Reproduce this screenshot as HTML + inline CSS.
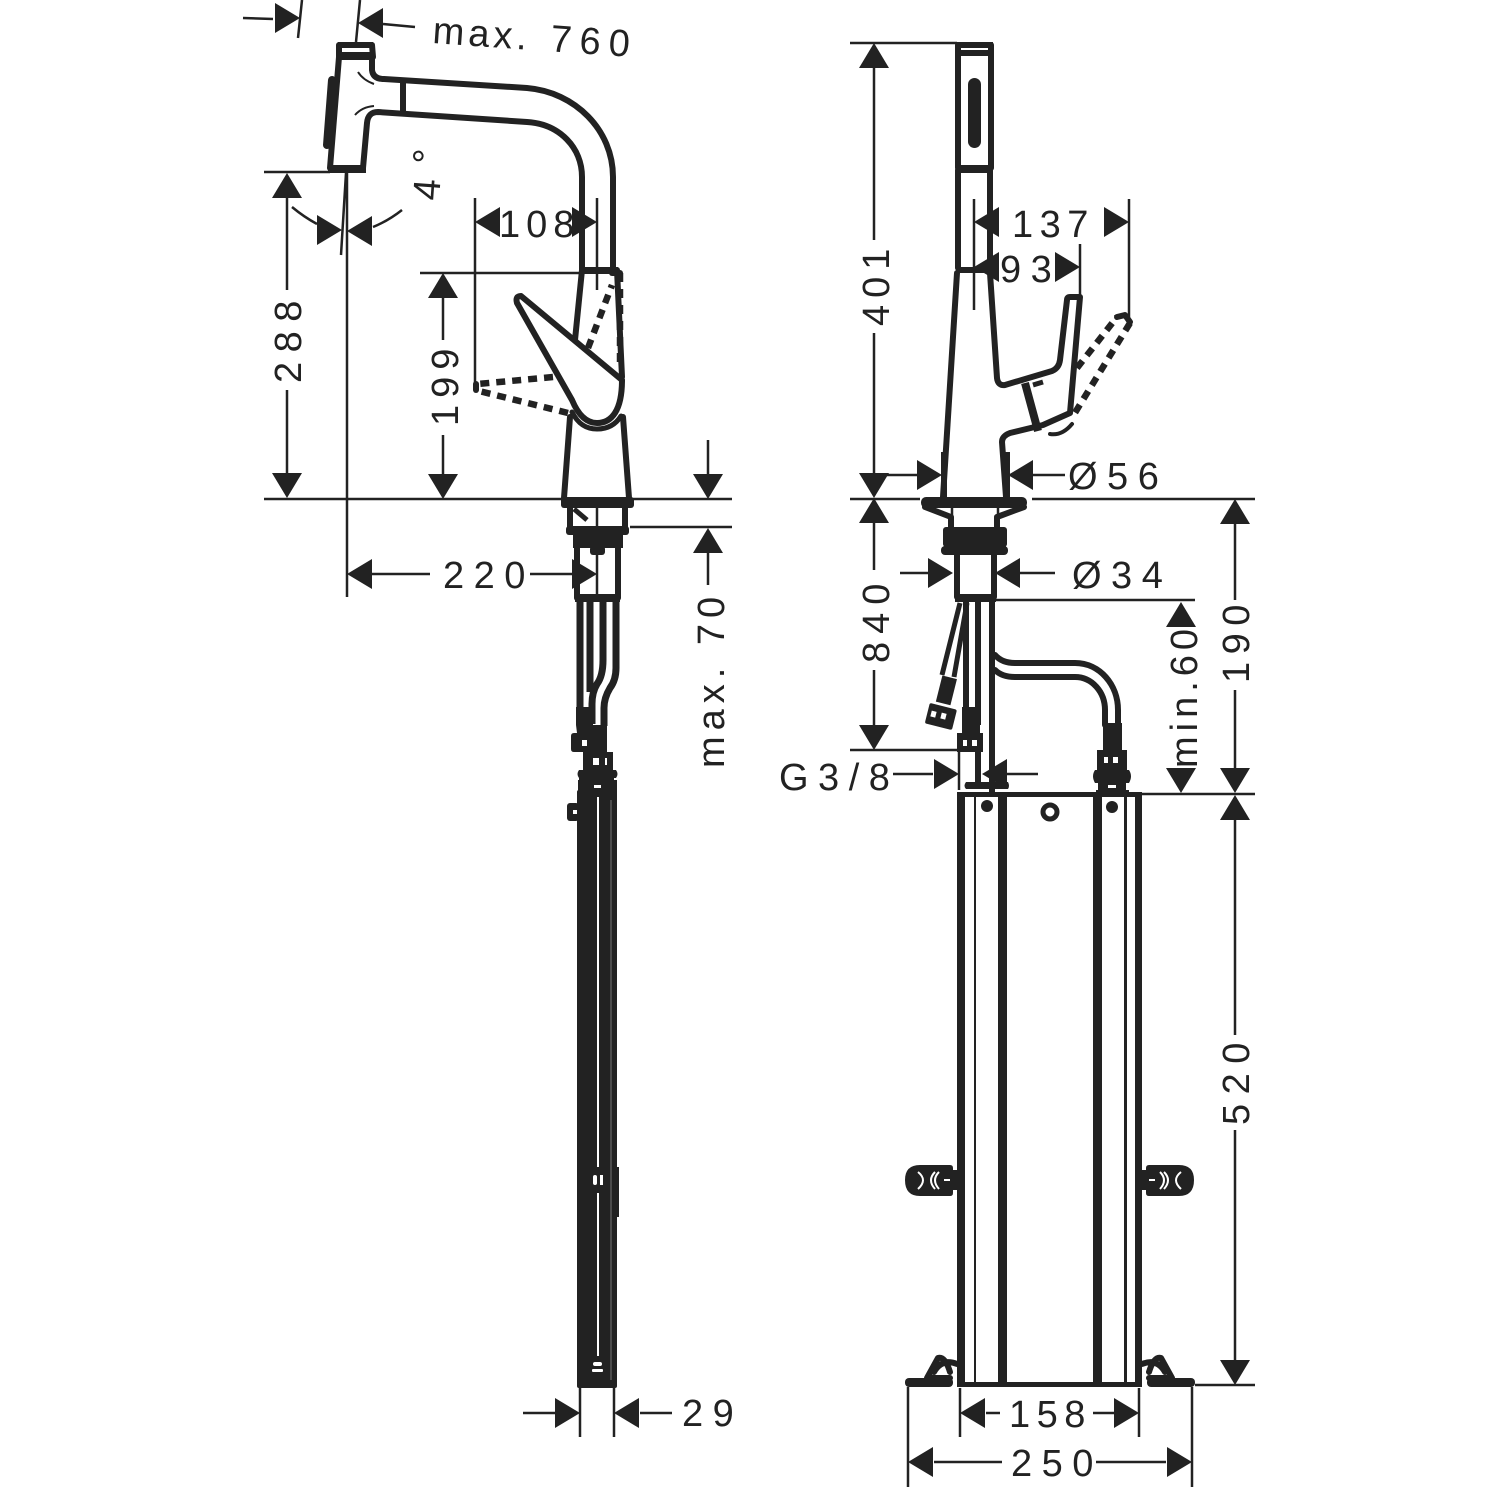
<!DOCTYPE html>
<html><head><meta charset="utf-8"><style>
html,body{margin:0;padding:0;background:#fff}
svg{display:block}
text{font-family:"Liberation Sans",sans-serif;font-size:38px;fill:#222;letter-spacing:9.5px}
.t{fill:none;stroke:#222;stroke-width:2.5}
.b{fill:none;stroke:#222;stroke-width:6;stroke-linejoin:round;stroke-linecap:round}
.d{fill:none;stroke:#222;stroke-width:6.5;stroke-dasharray:9 7}
.k{fill:#222}
.w{fill:#fff}
</style></head><body>
<svg width="1500" height="1500" viewBox="0 0 1500 1500" xmlns="http://www.w3.org/2000/svg">
<defs><polygon id="a" points="0,0 -25,-15 -25,15" fill="#222"/></defs>
<rect width="1500" height="1500" fill="#fff"/>

<!-- LEFT: thin dimension lines -->
<path class="t" d="M243 18L273 19M302 0L298 38M360 0L356 42M383 24L415 27
M264 172H330M287 197V290M287 390V475M264 499H565M632 499H732
M347 172V597M346 173L341 255M292 207Q304 217 317 224M373 227Q388 221 402 210
M475 198V385M597 198V290M420 273H580
M443 298V340M443 435V475
M708 440V475M708 553V585M630 527H732
M372 574H430M530 574H572
M523 1413H555M640 1413H672M580 1388V1437M614 1388V1437"/>
<use href="#a" transform="translate(300 18)"/>
<use href="#a" transform="translate(358 23) rotate(180)"/>
<use href="#a" transform="translate(287 173) rotate(-90)"/>
<use href="#a" transform="translate(287 498) rotate(90)"/>
<use href="#a" transform="translate(342 230)"/>
<use href="#a" transform="translate(347 231) rotate(180)"/>
<use href="#a" transform="translate(475 222) rotate(180)"/>
<use href="#a" transform="translate(597 222)"/>
<use href="#a" transform="translate(443 273) rotate(-90)"/>
<use href="#a" transform="translate(443 499) rotate(90)"/>
<use href="#a" transform="translate(708 499) rotate(90)"/>
<use href="#a" transform="translate(708 528) rotate(-90)"/>
<use href="#a" transform="translate(347 574) rotate(180)"/>
<use href="#a" transform="translate(597 574)"/>
<use href="#a" transform="translate(580 1413)"/>
<use href="#a" transform="translate(614 1413) rotate(180)"/>

<!-- LEFT: spout -->
<path class="b" d="M339 45H372L373 57H339ZM339 57L330 168H363L367 123Q368 112 378 112L527 122C560 124 582 148 582 177V270M372 57V70Q373 79 384 79L527 88C575 92 613 130 613 177V270"/>
<path d="M338 42H373V48H338ZM338 52H373V58H338Z" class="k"/>
<path d="M328 167H366V173H328Z" class="k"/>
<path d="M403 82V112" class="b"/>
<path d="M332 80L327 145" fill="none" stroke="#222" stroke-width="8" stroke-linecap="round"/>
<path d="M358 72Q363 80 374 84M355 115Q362 107 374 106" fill="none" stroke="#222" stroke-width="2"/>
<!-- body -->
<path d="M580 267H618V274H580Z" class="k"/>
<path class="b" d="M582 270L575 340M617 270L622 377"/>
<path class="b" d="M521 296L622 380C622 410 612 423 597 423C585 423 577 412 572 400L517 303Q515 296 521 296Z"/>
<path class="b" style="stroke-width:5" d="M572 412C578 424 586 429 597 429C608 429 616 424 621 416"/>
<path class="b" d="M570 417L564 498M623 417L629 498"/>
<path class="d" d="M588 348L612 285M620 273V363"/>
<path class="b" d="M612 273H620"/>
<path class="d" d="M553 377L478 384M568 413L475 390"/>
<path class="b" d="M476 384V390"/>
<!-- base -->
<rect x="561" y="497" width="73" height="11" rx="3" class="k"/>
<path class="b" d="M570 507V527M625 507V527"/>
<path class="t" d="M597 507V527"/>
<path d="M574 509L587 520" stroke="#222" stroke-width="5"/>
<rect x="566" y="526" width="63" height="9" rx="3" class="k"/>
<rect x="573" y="534" width="50" height="14" class="k"/>
<rect x="590" y="546" width="15" height="9" rx="3" class="k"/>
<path class="b" d="M577 548V598M618 548V598"/>
<path class="t" d="M597 548V600"/>
<path d="M575 594H620V602H575Z" class="k"/>
<!-- hoses -->
<path d="M580 600V712" stroke="#222" stroke-width="7" fill="none"/>
<path d="M590 600V692" stroke="#222" stroke-width="7" fill="none"/>
<path d="M603 600V660Q603 676 597 684Q592 692 592 704V724" stroke="#222" stroke-width="7" fill="none"/>
<path d="M616 600V668Q616 680 610 688Q604 698 604 708V726" stroke="#222" stroke-width="7" fill="none"/>
<path class="k" d="M576 707H593V725H607V752H613V770H616Q619 774 616 778H614V780H617V797H578V780H579V778Q576 774 579 770H583V752H574Q571 752 571 749V736Q571 733 574 733H577L576 725Z"/>
<rect x="582" y="740" width="5" height="6" class="w"/>
<rect x="593" y="758" width="6" height="7" class="w"/>
<rect x="605" y="758" width="2" height="7" class="w"/>
<rect x="594" y="785" width="7" height="3" class="w"/>
<!-- tall body -->
<rect x="577" y="790" width="40" height="598" rx="2" class="k"/>
<rect x="567" y="803" width="12" height="18" rx="3" class="k"/>
<rect x="573" y="810" width="4" height="4" class="w"/>
<rect x="617" y="1167" width="2" height="50" class="k"/>
<rect x="597" y="797" width="2" height="370" class="w"/>
<rect x="597" y="1193" width="2" height="163" class="w"/>
<rect x="593" y="1175" width="4" height="10" rx="2" class="w"/>
<rect x="600" y="1175" width="3" height="10" class="w"/>
<rect x="593" y="1362" width="9" height="4" rx="2" class="w"/>
<rect x="592" y="1369" width="11" height="3" rx="1" class="w"/>
<rect x="610.5" y="800" width="1" height="580" fill="#777"/>

<!-- RIGHT: thin dims -->
<path class="t" d="M850 43H957M874 68V240M874 333V473M850 499H920M1032 499H1255
M885 475H917M1033 475H1065M943 452V497M1007 452V497
M900 573H930M1018 573H1055M995 600H1195
M874 523V570M874 670V725M850 750H960
M893 774H933M1007 774H1038M959 752V790
M1235 524V600M1235 690V770M1235 820V1035M1235 1130V1360M1140 794H1255M1195 1385H1255
M974 199V310M1080 244V297M1129 199V322
M986 1413H1000M1093 1413H1115M960 1388V1437M1139 1388V1437
M934 1462H1002M1096 1462H1166M908 1387V1487M1192 1387V1487"/>
<use href="#a" transform="translate(874 43) rotate(-90)"/>
<use href="#a" transform="translate(874 498) rotate(90)"/>
<use href="#a" transform="translate(874 498) rotate(-90)"/>
<use href="#a" transform="translate(874 750) rotate(90)"/>
<use href="#a" transform="translate(942 475)"/>
<use href="#a" transform="translate(1008 475) rotate(180)"/>
<use href="#a" transform="translate(953 573)"/>
<use href="#a" transform="translate(995 573) rotate(180)"/>
<use href="#a" transform="translate(974 222) rotate(180)"/>
<use href="#a" transform="translate(1129 222)"/>
<use href="#a" transform="translate(974 267) rotate(180)"/>
<use href="#a" transform="translate(1080 267)"/>
<use href="#a" transform="translate(1235 499) rotate(-90)"/>
<use href="#a" transform="translate(1235 793) rotate(90)"/>
<use href="#a" transform="translate(1235 795) rotate(-90)"/>
<use href="#a" transform="translate(1235 1385) rotate(90)"/>
<use href="#a" transform="translate(1181 602) rotate(-90)"/>
<use href="#a" transform="translate(1181 793) rotate(90)"/>
<use href="#a" transform="translate(959 774)"/>
<use href="#a" transform="translate(982 774) rotate(180)"/>
<use href="#a" transform="translate(960 1413) rotate(180)"/>
<use href="#a" transform="translate(1139 1413)"/>
<use href="#a" transform="translate(908 1462) rotate(180)"/>
<use href="#a" transform="translate(1192 1462)"/>

<!-- RIGHT: head -->
<path class="b" d="M958 45H991V168M958 45V168M958 170V268M990 170V268"/>
<path d="M956 42H993V47H956ZM956 50H993V56H956ZM956 165H993V173H956ZM956 267H992V273H956Z" class="k"/>
<rect x="968" y="78" width="13" height="70" rx="6.5" class="k"/>
<path class="b" d="M957 273L943 497"/>
<path class="b" d="M990 273L997 378Q998 386 1005 385L1052 371Q1059 368 1060 360L1067 300Q1067 297 1070 297H1080L1070 413L1043 425L1010 433Q1002 436 1002 442L1006 497"/>
<path d="M1025 383L1038 431" stroke="#222" stroke-width="8" fill="none"/>
<path d="M1033 385L1043 382" stroke="#222" stroke-width="5" fill="none"/>
<path class="d" d="M1077 368L1117 317M1130 323L1073 416"/>
<path class="b" d="M1117 317L1125 315L1130 322"/>
<path class="b" style="stroke-width:4" d="M1050 434Q1062 436 1072 424"/>
<path class="k" d="M941 452h6v46h-6zM1005 452h5v46h-5z"/>
<!-- flange -->
<rect x="921" y="497" width="106" height="11" rx="5" class="k"/>
<path class="b" d="M925 507L951 517V527M1024 507L997 517V527"/>
<path class="t" d="M952 508V520M998 508V520"/>
<rect x="943" y="527" width="64" height="20" rx="3" class="k"/>
<rect x="941" y="546" width="67" height="9" rx="4" class="k"/>
<path class="b" d="M957 554V597H994V554"/>
<path d="M955 595H996V602H955Z" class="k"/>
<!-- hoses right -->
<path d="M966 600V707M978 600V725M992 600V793" stroke="#222" stroke-width="6" fill="none"/>
<path d="M960 603L942 675M967 603L954 677" stroke="#222" stroke-width="5" fill="none"/>
<rect x="939" y="677" width="15" height="27" class="k" transform="rotate(14 947 690)"/>
<rect x="927" y="706" width="28" height="21" rx="2" class="k" transform="rotate(14 941 716)"/>
<rect x="931" y="711" width="5" height="6" class="w" transform="rotate(14 933 714)"/>
<rect x="941" y="713" width="5" height="6" class="w" transform="rotate(14 943 716)"/>
<path class="k" d="M962 707H980V733H983V752H981V782H1008Q1010 786 1008 789H966Q963 786 966 782H975V752H957V733H962Z"/>
<rect x="963" y="740" width="4" height="6" class="w"/>
<rect x="972" y="740" width="5" height="6" class="w"/>
<path class="b" d="M995 655Q1002 663 1015 663H1075C1100 663 1118 685 1118 710V725M995 670Q1002 677 1015 677H1075C1092 677 1105 692 1105 710V725"/>
<path class="k" d="M1103 723H1122V750H1127V770H1129Q1133 776 1129 783H1126V790H1129V794H1096V790H1098V783H1095Q1091 776 1095 770H1097V750H1103Z"/>
<rect x="1104" y="757" width="4" height="6" class="w"/>
<rect x="1113" y="757" width="5" height="6" class="w"/>
<rect x="1108" y="785" width="8" height="3" class="w"/>
<!-- box -->
<path class="k" d="M957 792H1142V1387H957V792Z"/>
<rect x="965" y="797" width="9" height="585" class="w"/>
<rect x="976" y="797" width="22" height="585" class="w"/>
<rect x="1007" y="797" width="86" height="585" class="w"/>
<rect x="1102" y="797" width="22" height="585" class="w"/>
<rect x="1127" y="797" width="8" height="585" class="w"/>
<circle cx="987" cy="806" r="6" class="k"/>
<circle cx="1112" cy="807" r="6" class="k"/>
<circle cx="1050" cy="812" r="7" class="w" stroke="#222" stroke-width="5"/>
<!-- clips -->
<path class="k" d="M920 1165H950Q953 1165 953 1168V1170H958V1190H953V1193Q953 1196 950 1196H920Q905 1196 905 1180Q905 1165 920 1165Z"/>
<path class="k" d="M1179 1165H1149Q1146 1165 1146 1168V1170H1141V1190H1146V1193Q1146 1196 1149 1196H1179Q1194 1196 1194 1180Q1194 1165 1179 1165Z"/>
<g fill="none" stroke="#fff" stroke-width="2">
<path d="M918 1172Q928 1180 918 1189M935 1172Q927 1180 935 1189M939 1172Q931 1180 939 1189"/>
<path d="M1181 1172Q1171 1180 1181 1189M1164 1172Q1172 1180 1164 1189M1160 1172Q1168 1180 1160 1189"/>
<path d="M944 1180H950M1149 1180H1155"/>
</g>
<!-- feet -->
<rect x="905" y="1378" width="48" height="9" rx="4" class="k"/>
<rect x="1147" y="1378" width="48" height="9" rx="4" class="k"/>
<path class="b" style="stroke-width:6" d="M927 1378L938 1358Q945 1356 950 1372M934 1372Q942 1358 957 1364M931 1378H950"/>
<path class="b" style="stroke-width:6" d="M1172 1378L1161 1358Q1154 1356 1149 1372M1165 1372Q1157 1358 1142 1364M1168 1378H1149"/>

<!-- TEXT -->
<text transform="translate(432 43) rotate(4)" style="letter-spacing:4px">max.<tspan x="118" style="letter-spacing:8px">760</tspan></text>
<text transform="translate(301 383) rotate(-90)">288</text>
<text transform="translate(458 426) rotate(-90)" style="letter-spacing:7px">199</text>
<text transform="translate(439 201) rotate(-86)">4</text>
<text transform="translate(439 165) rotate(-86)">°</text>
<text x="499" y="237" style="letter-spacing:6px">108</text>
<text x="443" y="588">220</text>
<text transform="translate(724 768) rotate(-90)" style="letter-spacing:6px">max. 70</text>
<text x="682" y="1426">29</text>
<text transform="translate(889 326) rotate(-90)" style="letter-spacing:7px">401</text>
<text transform="translate(889 663) rotate(-90)" style="letter-spacing:8px">840</text>
<text x="1012" y="237" style="letter-spacing:6.5px">137</text>
<text x="1000" y="282">93</text>
<text x="1068" y="489">Ø56</text>
<text x="1072" y="588">Ø34</text>
<text transform="translate(1197 768) rotate(-90)" style="letter-spacing:5px">min.60</text>
<text transform="translate(1249 683) rotate(-90)" style="letter-spacing:7.5px">190</text>
<text transform="translate(1249 1125) rotate(-90)">520</text>
<text x="779" y="790">G3/8</text>
<text x="1009" y="1427" style="letter-spacing:6.5px">158</text>
<text x="1011" y="1476">250</text>
</svg>
</body></html>
